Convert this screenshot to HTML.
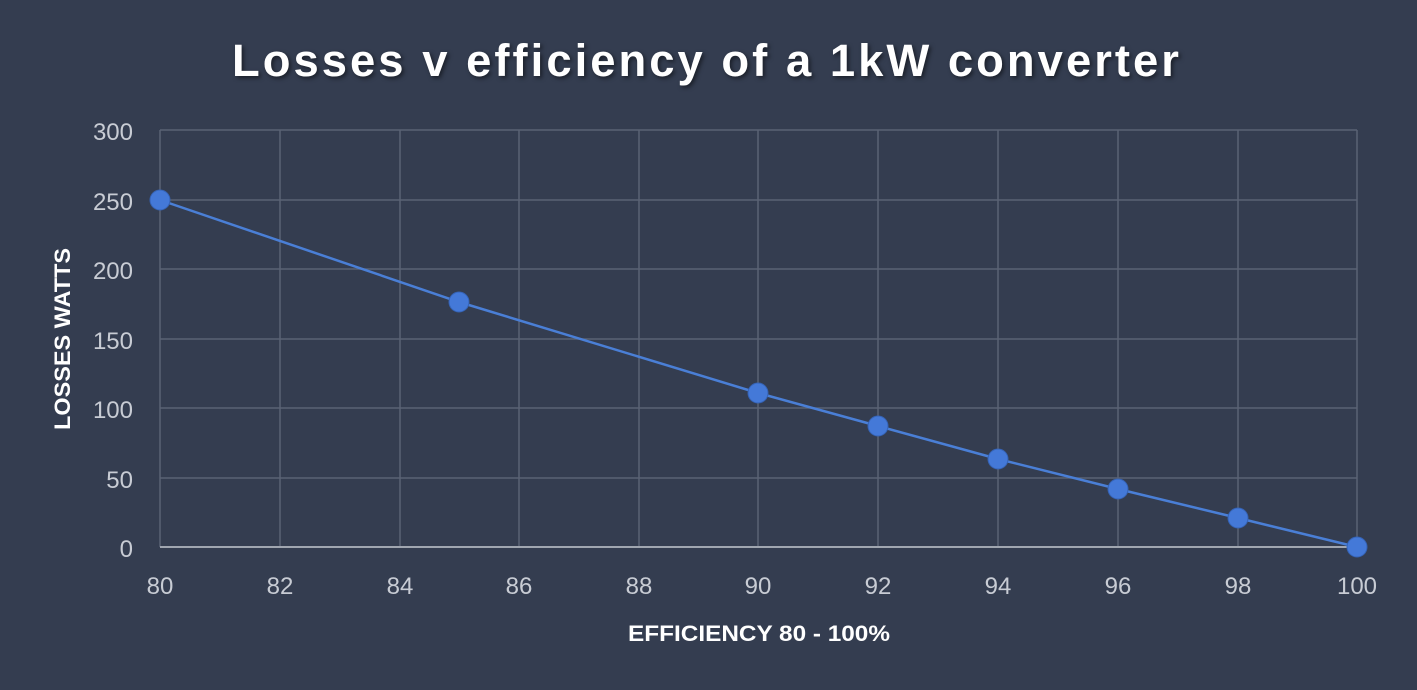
<!DOCTYPE html>
<html><head><meta charset="utf-8"><style>
html,body{margin:0;padding:0;background:#343d50;}
svg{display:block}
</style></head><body>
<svg width="1417" height="690" viewBox="0 0 1417 690" xmlns="http://www.w3.org/2000/svg">
<rect width="1417" height="690" fill="#343d50"/>
<text x="707" y="76" text-anchor="middle" font-family="Liberation Sans, sans-serif" font-weight="bold" font-size="45" fill="#ffffff" letter-spacing="3" textLength="950" lengthAdjust="spacingAndGlyphs" style="filter:drop-shadow(2px 2px 2px rgba(0,0,0,0.5))">Losses v efficiency of a 1kW converter</text>
<g stroke="#5a6374" stroke-width="1.5">
<line x1="160" y1="130" x2="1357" y2="130"/>
<line x1="160" y1="200" x2="1357" y2="200"/>
<line x1="160" y1="269" x2="1357" y2="269"/>
<line x1="160" y1="339" x2="1357" y2="339"/>
<line x1="160" y1="408" x2="1357" y2="408"/>
<line x1="160" y1="478" x2="1357" y2="478"/>
<line x1="160" y1="130" x2="160" y2="547"/>
<line x1="280" y1="130" x2="280" y2="547"/>
<line x1="400" y1="130" x2="400" y2="547"/>
<line x1="519" y1="130" x2="519" y2="547"/>
<line x1="639" y1="130" x2="639" y2="547"/>
<line x1="758" y1="130" x2="758" y2="547"/>
<line x1="878" y1="130" x2="878" y2="547"/>
<line x1="998" y1="130" x2="998" y2="547"/>
<line x1="1118" y1="130" x2="1118" y2="547"/>
<line x1="1238" y1="130" x2="1238" y2="547"/>
<line x1="1357" y1="130" x2="1357" y2="547"/>
</g>
<line x1="160" y1="547" x2="1357" y2="547" stroke="#a0a6b0" stroke-width="2"/>
<g font-family="Liberation Sans, sans-serif" font-size="24" fill="#c8ccd4" text-anchor="end">
<text x="133" y="140">300</text><text x="133" y="210">250</text><text x="133" y="279">200</text>
<text x="133" y="349">150</text><text x="133" y="418">100</text><text x="133" y="488">50</text><text x="133" y="557">0</text>
</g>
<g font-family="Liberation Sans, sans-serif" font-size="24" fill="#c8ccd4" text-anchor="middle">
<text x="160" y="594">80</text><text x="280" y="594">82</text><text x="400" y="594">84</text><text x="519" y="594">86</text>
<text x="639" y="594">88</text><text x="758" y="594">90</text><text x="878" y="594">92</text><text x="998" y="594">94</text>
<text x="1118" y="594">96</text><text x="1238" y="594">98</text><text x="1357" y="594">100</text>
</g>
<text x="759" y="641" text-anchor="middle" font-family="Liberation Sans, sans-serif" font-weight="bold" font-size="22" fill="#ffffff" textLength="262" lengthAdjust="spacingAndGlyphs">EFFICIENCY 80 - 100%</text>
<text transform="translate(70,339) rotate(-90)" text-anchor="middle" font-family="Liberation Sans, sans-serif" font-weight="bold" font-size="22" fill="#ffffff" textLength="182" lengthAdjust="spacingAndGlyphs">LOSSES WATTS</text>
<polyline fill="none" stroke="#4a7fd6" stroke-width="2.5" points="160,200 459,302 758,393 878,426 998,459 1118,489 1238,518 1357,547"/>
<g fill="#4479d8" stroke="#3563b5" stroke-width="1">
<circle cx="160" cy="200" r="10"/><circle cx="459" cy="302" r="10"/><circle cx="758" cy="393" r="10"/>
<circle cx="878" cy="426" r="10"/><circle cx="998" cy="459" r="10"/><circle cx="1118" cy="489" r="10"/>
<circle cx="1238" cy="518" r="10"/><circle cx="1357" cy="547" r="10"/>
</g>
</svg>
</body></html>
